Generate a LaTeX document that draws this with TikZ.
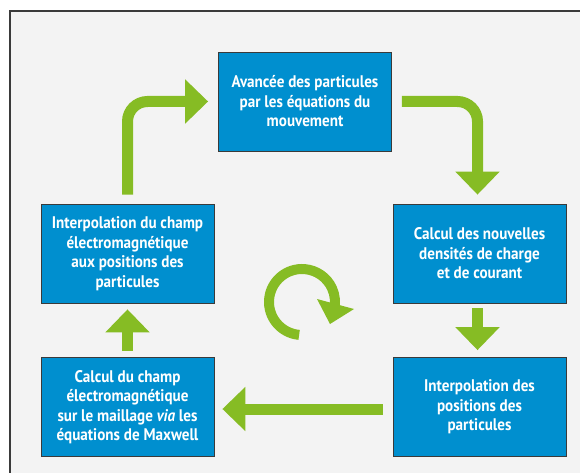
\documentclass[tikz,border=0pt]{standalone}
\usepackage{fontspec}
\setmainfont{PT Sans}[FakeStretch=0.9]
\usetikzlibrary{arrows.meta}

\definecolor{boxblue}{HTML}{008FCF}
\definecolor{flowgreen}{HTML}{86BC24}
\definecolor{panelgray}{HTML}{F3F3F3}
\definecolor{edgegray}{HTML}{3A3A3A}

\begin{document}
\begin{tikzpicture}[x=1pt, y=-1pt,
    stage/.style = {rectangle, draw=edgegray, line width=0.8, fill=boxblue, text=white,
                     minimum width=173, minimum height=99, inner sep=0, align=center,
                     font=\fontsize{16.8}{19.5}\selectfont\bfseries},
    flow/.style = {draw=flowgreen, line width=11, rounded corners=20,
                   -{Triangle[width=43pt, length=23pt]}}]
  % Panel.
  \useasboundingbox (0, 0) rectangle (580, 473);
  \draw [edgegray, line width=1.5, fill=panelgray] (10, 11) rectangle (590, 483);

  % Stages.
  \node at (305, 101.5) [stage, name=Advance] {Avancée des particules\\par les équations du\\mouvement};
  \node at (479.5, 253.5) [stage, name=Density] {Calcul des nouvelles\\densités de charge\\et de courant};
  \node at (479.5, 407) [stage, name=PositionInterp] {Interpolation des\\positions des\\particules};
  \node at (127.5, 407) [stage, name=FieldSolve] {Calcul du champ\\électromagnétique\\sur le maillage \textit{via} les\\équations de Maxwell};
  \node at (127.5, 253.5) [stage, name=FieldInterp] {Interpolation du champ\\électromagnétique\\aux positions des\\particules};

  % Cycle.
  \draw [flow] ([yshift=9]FieldInterp.north)
               |- ([xshift=-10]Advance.west);
  \draw [flow] ([xshift=10]Advance.east)
               -| ([xshift=-2, yshift=9]Density.north);
  \draw [flow] ([xshift=-2, yshift=-5]Density.south)
               to ([xshift=-2, yshift=7]PositionInterp.north);
  \draw [flow] ([xshift=-10, yshift=-2]PositionInterp.west)
               to ([xshift=8, yshift=-2]FieldSolve.east);
  \draw [flow] ([yshift=6]FieldSolve.north)
               to ([yshift=-6]FieldInterp.south);

  % Loop symbol.
  \coordinate (loop) at (302, 302);
  \draw [flowgreen, line width=10] (loop) ++(95:33) arc [start angle=95, end angle=375, radius=33];
  \fill [flowgreen] (317, 299) -- (330, 324) -- (354, 309) -- cycle;
\end{tikzpicture}
\end{document}
